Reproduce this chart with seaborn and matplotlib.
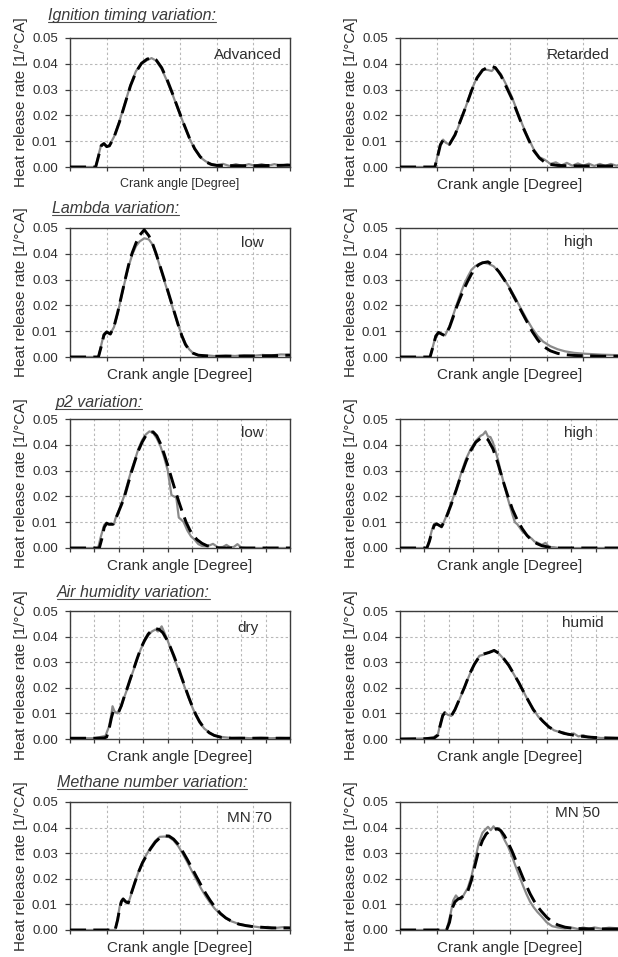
import numpy as np
import matplotlib
matplotlib.use("Agg")
import matplotlib.pyplot as plt
import matplotlib.transforms as mtransforms
from matplotlib.lines import Line2D
import seaborn as sns

sns.set_theme(style="ticks")
plt.rcParams['font.family'] = ['Liberation Sans', 'DejaVu Sans']

# ---------------------------------------------------------------
# Heat release rate [1/°CA] vs crank angle [deg]
# "meas" = measured trace (grey), "sim" = simulated trace (black dashed)
# ---------------------------------------------------------------

# Ignition timing: advanced
adv_sim_x = [-40, -26, -24.5, -23, -21.5, -20, -18.5, -16, -13, -10, -7, -4, -1, 2, 4.5, 7, 10, 13, 16, 19,
             22, 25, 28, 31, 34, 37, 40, 50, 60, 70, 80]
adv_sim = [0, 0, 0.0040, 0.0082, 0.0091, 0.0079, 0.0082, 0.0115, 0.0175, 0.0245, 0.0315, 0.0368, 0.0402,
           0.0418, 0.0424, 0.0415, 0.0385, 0.0338, 0.0283, 0.0225, 0.0168, 0.0115, 0.0071, 0.0040, 0.0020,
           0.0010, 0.0006, 0.0005, 0.0005, 0.0006, 0.0007]
adv_meas_x = [-40, -26, -24.5, -23, -21.5, -20, -18.5, -16, -13, -10, -7, -4, -1, 2, 4.5, 7, 10, 13, 16, 19,
              22, 25, 28, 31, 34, 37, 40, 43.5, 47, 50.5, 54, 57.5, 61, 64.5, 68, 71.5, 75, 78.5, 80]
adv_meas = [0, 0, 0.0045, 0.0086, 0.0090, 0.0080, 0.0084, 0.0117, 0.0178, 0.0248, 0.0318, 0.0372, 0.0400,
            0.0414, 0.0422, 0.0412, 0.0380, 0.0332, 0.0280, 0.0222, 0.0168, 0.0113, 0.0070, 0.0038, 0.0022,
            0.0012, 0.0008, 0.0012, 0.0004, 0.0011, 0.0004, 0.0011, 0.0005, 0.0011, 0.0005, 0.0011, 0.0005,
            0.0010, 0.0008]

# Ignition timing: retarded
ret_sim_x = [-40, -21, -19.5, -18, -16.5, -15, -13, -10, -7, -4, -1, 2, 5, 8, 10, 12, 15, 18, 21, 24, 27,
             30, 33, 36, 39, 42, 46, 50, 60, 70, 80]
ret_sim = [0, 0, 0.0040, 0.0085, 0.0104, 0.0096, 0.0088, 0.0125, 0.0180, 0.0235, 0.0295, 0.0345, 0.0375,
           0.0388, 0.0390, 0.0385, 0.0355, 0.0310, 0.0265, 0.0210, 0.0155, 0.0108, 0.0063, 0.0035, 0.0018,
           0.0010, 0.0006, 0.0005, 0.0004, 0.0004, 0.0004]
ret_meas_x = [-40, -21, -19.5, -18, -16.5, -15, -13, -10, -7, -4, -1, 2, 5, 8, 10, 12, 15, 18, 21, 24, 27,
              30, 33, 36, 39, 42, 45, 48, 51, 54, 57, 60, 63, 66, 69, 72, 75, 78, 80]
ret_meas = [0, 0, 0.0045, 0.0090, 0.0106, 0.0094, 0.0087, 0.0122, 0.0178, 0.0236, 0.0298, 0.0348, 0.0378,
            0.0376, 0.0372, 0.0386, 0.0360, 0.0318, 0.0272, 0.0215, 0.0160, 0.0112, 0.0068, 0.0038, 0.0028,
            0.0012, 0.0018, 0.0006, 0.0016, 0.0005, 0.0014, 0.0005, 0.0013, 0.0004, 0.0012, 0.0004, 0.0012,
            0.0005, 0.0009]

# Lambda: low
laml_sim_x = [-40, -24.5, -23, -21.5, -20, -18, -16, -14, -12, -10, -8, -6, -4, -2, 0.5, 3, 5, 7, 9, 11,
              13, 15, 17, 19, 21, 23, 25, 27, 30, 35, 40, 50, 60, 70, 80]
laml_sim = [0, 0, 0.0040, 0.0085, 0.0097, 0.0089, 0.0118, 0.0172, 0.0235, 0.0298, 0.0358, 0.0405, 0.0442,
            0.0472, 0.0493, 0.0470, 0.0440, 0.0400, 0.0355, 0.0310, 0.0265, 0.0218, 0.0172, 0.0125, 0.0082,
            0.0048, 0.0027, 0.0015, 0.0007, 0.0004, 0.0003, 0.0003, 0.0004, 0.0005, 0.0007]
laml_meas_x = [-40, -24.5, -23, -21.5, -20, -18, -16, -14, -12, -10, -8, -6, -4, -2, 0.5, 3, 5, 7, 9, 11,
               13, 15, 17, 19, 21, 23, 25, 27, 30, 35, 40, 45, 50, 55, 60, 65, 70, 75, 80]
laml_meas = [0, 0, 0.0045, 0.0090, 0.0098, 0.0090, 0.0116, 0.0170, 0.0232, 0.0295, 0.0352, 0.0398, 0.0430,
             0.0448, 0.0460, 0.0456, 0.0436, 0.0398, 0.0352, 0.0305, 0.0260, 0.0214, 0.0168, 0.0124, 0.0085,
             0.0052, 0.0030, 0.0016, 0.0006, 0.0006, 0.0003, 0.0006, 0.0004, 0.0007, 0.0005, 0.0008, 0.0006,
             0.0010, 0.0009]

# Lambda: high
lamh_sim_x = [-40, -23.6, -22, -20.5, -19, -17, -15.4, -13, -11, -9, -7, -5, -3, -1, 1, 3, 5, 8, 11, 14,
              17, 20, 23, 26, 29, 32, 35, 38, 42, 46, 50, 55, 60, 70, 80]
lamh_sim = [0, 0, 0.0040, 0.0080, 0.0095, 0.0088, 0.0082, 0.0115, 0.0155, 0.0196, 0.0232, 0.0265, 0.0295,
            0.0322, 0.0345, 0.0358, 0.0365, 0.0369, 0.0355, 0.0330, 0.0298, 0.0262, 0.0222, 0.0180, 0.0140,
            0.0100, 0.0068, 0.0042, 0.0024, 0.0014, 0.0009, 0.0006, 0.0005, 0.0003, 0.0003]
lamh_meas_x = [-40, -23.6, -22, -20.5, -19, -17, -15.4, -13, -11, -9, -7, -5, -3, -1, 1, 3, 5, 8, 11, 14,
               17, 20, 23, 26, 29, 32, 35, 38, 42, 46, 50, 55, 60, 65, 70, 75, 80]
lamh_meas = [0, 0, 0.0042, 0.0084, 0.0096, 0.0087, 0.0084, 0.0120, 0.0162, 0.0205, 0.0245, 0.0282, 0.0312,
             0.0338, 0.0352, 0.0360, 0.0366, 0.0362, 0.0352, 0.0330, 0.0300, 0.0266, 0.0228, 0.0187, 0.0148,
             0.0112, 0.0082, 0.0060, 0.0042, 0.0030, 0.0022, 0.0016, 0.0013, 0.0011, 0.0009, 0.0008, 0.0007]

# Boost pressure p2: low
p2l_sim_x = [-30, -18, -17, -16, -15, -14, -12.5, -11, -9.5, -8, -6.5, -5, -3.5, -2, -0.5, 1, 2.5, 4, 5.5,
             7, 8.5, 10, 11.5, 13, 14.5, 16, 17.5, 19, 20.5, 22, 24, 26, 28.5, 31, 40, 50, 60]
p2l_sim = [0, 0, 0.0035, 0.0080, 0.0096, 0.0092, 0.0092, 0.0120, 0.0155, 0.0190, 0.0240, 0.0290, 0.0335,
           0.0378, 0.0410, 0.0435, 0.0448, 0.0450, 0.0435, 0.0405, 0.0365, 0.0320, 0.0272, 0.0225, 0.0180,
           0.0138, 0.0100, 0.0070, 0.0048, 0.0032, 0.0018, 0.0009, 0.0004, 0, 0, 0, 0]
p2l_meas_x = [-30, -18.5, -17.5, -16, -15, -14.5, -12, -11.5, -9.5, -8, -6.5, -5, -3.5, -2, -0.5, 1, 2.5,
              4, 5.5, 7, 8.5, 10, 11.5, 12.5, 13.5, 14.5, 15.5, 16.5, 18, 19.5, 21, 22.5, 24, 26, 28.5, 30.5,
              32.5, 34, 35.5, 37, 38.5, 40, 42, 50, 60]
p2l_meas = [0, 0, 0.0040, 0.0090, 0.0098, 0.0092, 0.0092, 0.0112, 0.0158, 0.0198, 0.0248, 0.0298, 0.0340,
            0.0385, 0.0418, 0.0440, 0.0452, 0.0446, 0.0425, 0.0395, 0.0352, 0.0300, 0.0205, 0.0200, 0.0195,
            0.0118, 0.0110, 0.0100, 0.0068, 0.0045, 0.0032, 0.0015, 0.0008, 0.0006, 0.0016, 0.0003, 0.0004,
            0.0012, 0.0003, 0.0004, 0.0015, 0.0002, 0, 0, 0]

# Boost pressure p2: high
p2h_sim_x = [-30, -19, -18, -17, -16, -15, -13, -11, -9, -7, -5, -3, -1, 1, 3, 4.5, 6, 8, 10, 12, 14, 16,
             18, 20, 22, 24, 26, 28, 31, 35, 40, 50, 60]
p2h_sim = [0, 0, 0.0025, 0.0060, 0.0088, 0.0093, 0.0083, 0.0120, 0.0170, 0.0225, 0.0283, 0.0335, 0.0378,
           0.0410, 0.0425, 0.0429, 0.0420, 0.0385, 0.0330, 0.0265, 0.0205, 0.0150, 0.0108, 0.0075, 0.0048,
           0.0029, 0.0017, 0.0009, 0.0003, 0, 0, 0, 0]
p2h_meas_x = [-30, -19, -18, -17, -16, -15, -13, -11, -9, -7, -5, -3, -1, 1, 3, 4, 5, 6, 7, 8, 10, 12, 14,
              16, 17, 18, 20, 22, 24, 25, 26, 28, 29.5, 31, 33, 35, 40, 50, 60]
p2h_meas = [0, 0, 0.0030, 0.0068, 0.0094, 0.0096, 0.0080, 0.0125, 0.0175, 0.0228, 0.0290, 0.0345, 0.0385,
            0.0415, 0.0435, 0.0440, 0.0452, 0.0432, 0.0430, 0.0410, 0.0345, 0.0268, 0.0195, 0.0130, 0.0100,
            0.0092, 0.0065, 0.0050, 0.0035, 0.0025, 0.0022, 0.0012, 0.0020, 0.0004, 0.0003, 0, 0, 0, 0]

# Air humidity: dry
dry_sim_x = [-30, -20, -16, -15, -14, -13, -12.3, -11, -10.2, -9, -8, -6.8, -5.5, -4, -2.5, -1, 0.5, 2, 3.5,
             5, 6.5, 8, 9.5, 11, 12.5, 14, 15.5, 17, 18.5, 20, 21.5, 23, 25, 27, 29, 32, 36, 40, 50, 60]
dry_sim = [0.0003, 0.0003, 0.0004, 0.0008, 0.0040, 0.0085, 0.0108, 0.0110, 0.0103, 0.0130, 0.0160, 0.0192,
           0.0230, 0.0272, 0.0315, 0.0355, 0.0385, 0.0410, 0.0425, 0.0431, 0.0428, 0.0415, 0.0390, 0.0360,
           0.0325, 0.0287, 0.0245, 0.0205, 0.0165, 0.0128, 0.0095, 0.0068, 0.0041, 0.0024, 0.0014, 0.0006,
           0.0003, 0.0003, 0.0003, 0.0003]
dry_meas_x = [-30, -20, -16.5, -15.5, -14, -13, -12.6, -11.8, -10.5, -9, -8, -6.8, -5.5, -4, -2.5, -1, 0.5,
              2, 3.5, 5, 6, 7.5, 8.5, 9.5, 11, 12.5, 14, 15.5, 17, 18.5, 20, 21.5, 23, 25, 27, 29, 32, 36, 40,
              44, 48, 52, 56, 60]
dry_meas = [0.0003, 0.0003, 0.0010, 0.0012, 0.0050, 0.0100, 0.0128, 0.0108, 0.0100, 0.0128, 0.0158, 0.0190,
            0.0228, 0.0270, 0.0312, 0.0352, 0.0382, 0.0405, 0.0420, 0.0428, 0.0420, 0.0440, 0.0418, 0.0395,
            0.0358, 0.0318, 0.0280, 0.0240, 0.0200, 0.0162, 0.0125, 0.0092, 0.0064, 0.0040, 0.0026, 0.0014,
            0.0008, 0.0004, 0.0005, 0.0003, 0.0005, 0.0003, 0.0004, 0.0003]

# Air humidity: humid
hum_sim_x = [-30, -20, -16, -14.5, -13.5, -12.5, -11.6, -10.3, -8.9, -7.5, -5.5, -3.5, -1.5, 0.5, 2.5, 4.5,
             6.5, 8.5, 10.5, 12.5, 14.5, 16.5, 18.5, 20.5, 22.5, 24.5, 26.5, 28.5, 31, 33, 37, 42, 49, 55, 60]
hum_sim = [0, 0.0001, 0.0004, 0.0015, 0.0055, 0.0092, 0.0102, 0.0096, 0.0092, 0.0115, 0.0160, 0.0205,
           0.0255, 0.0293, 0.0322, 0.0333, 0.0338, 0.0346, 0.0335, 0.0313, 0.0288, 0.0255, 0.0222, 0.0185,
           0.0150, 0.0115, 0.0090, 0.0069, 0.0046, 0.0036, 0.0022, 0.0013, 0.0006, 0.0004, 0.0003]
hum_meas_x = [-30, -20, -16.4, -14.5, -13.5, -12.5, -11.8, -10.5, -9, -7.5, -5.5, -3.5, -1.5, 0.5, 2.5, 4.5,
              6.5, 8.5, 10.5, 12.5, 14.5, 16.5, 18.5, 20.5, 22.5, 24.5, 26.5, 28.5, 31, 33, 35, 37, 39, 41,
              43, 45, 47, 49, 52, 56, 60]
hum_meas = [0, 0.0002, 0.0006, 0.0018, 0.0060, 0.0095, 0.0105, 0.0095, 0.0090, 0.0115, 0.0158, 0.0205,
            0.0252, 0.0295, 0.0325, 0.0330, 0.0340, 0.0345, 0.0333, 0.0312, 0.0285, 0.0254, 0.0220, 0.0186,
            0.0148, 0.0118, 0.0088, 0.0068, 0.0048, 0.0034, 0.0028, 0.0026, 0.0016, 0.0022, 0.0010, 0.0015,
            0.0006, 0.0008, 0.0004, 0.0004, 0.0003]

# Methane number: MN 70
mn70_sim_x = [-40, -15.4, -14, -13, -12, -11, -9.5, -8.2, -6.5, -4.5, -2.5, -0.5, 1.5, 4, 6.5, 9, 11.5, 14,
              16.5, 19, 21.5, 24, 26.5, 29, 31.5, 34, 36.5, 39, 42, 45, 48, 52, 56, 60, 70, 80]
mn70_sim = [0, 0, 0.0040, 0.0080, 0.0110, 0.0121, 0.0110, 0.0106, 0.0145, 0.0188, 0.0228, 0.0262, 0.0288,
            0.0318, 0.0343, 0.0360, 0.0368, 0.0367, 0.0355, 0.0335, 0.0306, 0.0275, 0.0242, 0.0208, 0.0175,
            0.0143, 0.0115, 0.0090, 0.0065, 0.0047, 0.0035, 0.0023, 0.0017, 0.0013, 0.0008, 0.0008]
mn70_meas_x = [-40, -15.4, -14, -13, -12, -11, -9.5, -8.2, -6.5, -4.5, -2.5, -0.5, 1.5, 4, 6.5, 9, 11.5, 14,
               16.5, 19, 21.5, 24, 26.5, 29, 31.5, 34, 36.5, 39, 42, 45, 48, 52, 56, 60, 64, 68, 72, 76, 80]
mn70_meas = [0, 0, 0.0045, 0.0088, 0.0115, 0.0123, 0.0108, 0.0104, 0.0142, 0.0190, 0.0230, 0.0265, 0.0292,
             0.0322, 0.0348, 0.0364, 0.0365, 0.0363, 0.0350, 0.0328, 0.0298, 0.0265, 0.0230, 0.0196, 0.0162,
             0.0132, 0.0106, 0.0083, 0.0062, 0.0046, 0.0034, 0.0024, 0.0018, 0.0014, 0.0010, 0.0012, 0.0008,
             0.0011, 0.0009]

# Methane number: MN 50
mn50_sim_x = [-40, -14.6, -13, -11.5, -10, -8.5, -7, -5, -3, -1, 1, 3, 5, 7, 9, 11, 13, 15, 17, 19, 21, 23,
              25, 27, 29, 31, 33, 35, 37, 40, 43, 46, 50, 55, 60, 70, 80]
mn50_sim = [0, 0, 0.0030, 0.0085, 0.0110, 0.0120, 0.0125, 0.0135, 0.0152, 0.0195, 0.0255, 0.0312, 0.0350,
            0.0375, 0.0387, 0.0393, 0.0396, 0.0388, 0.0368, 0.0340, 0.0310, 0.0275, 0.0240, 0.0205, 0.0172,
            0.0141, 0.0115, 0.0092, 0.0074, 0.0050, 0.0032, 0.0020, 0.0011, 0.0006, 0.0005, 0.0004, 0.0004]
mn50_meas_x = [-40, -14.6, -12.5, -11, -9.5, -8, -6.5, -5, -3, -1, 1, 3, 5, 6.5, 8, 9.5, 11, 12.5, 14, 15.5,
               17, 19, 21, 23, 25, 27, 29, 31, 33, 35, 37, 40, 43, 46, 50, 54, 57, 60, 63, 66, 70, 74, 80]
mn50_meas = [0, 0, 0.0060, 0.0115, 0.0135, 0.0122, 0.0120, 0.0140, 0.0165, 0.0210, 0.0275, 0.0340, 0.0380,
             0.0392, 0.0403, 0.0390, 0.0405, 0.0390, 0.0398, 0.0375, 0.0352, 0.0325, 0.0290, 0.0250, 0.0212,
             0.0175, 0.0140, 0.0110, 0.0088, 0.0070, 0.0055, 0.0030, 0.0015, 0.0010, 0.0006, 0.0009, 0.0004,
             0.0010, 0.0004, 0.0010, 0.0005, 0.0009, 0.0006]

# Crank angle grids
wide_ticks = [-40, -20, 0, 20, 40, 60, 80]            # 6 divisions
fine_ticks = [-30, -20, -10, 0, 10, 20, 30, 40, 50, 60]  # 9 divisions
hrr_ticks = [0.00, 0.01, 0.02, 0.03, 0.04, 0.05]

section_titles = ["Ignition timing variation:", "Lambda variation:", "p2 variation:",
                  "Air humidity variation:", "Methane number variation:"]
case_labels = [["Advanced", "Retarded"], ["low", "high"], ["low", "high"],
               ["dry", "humid"], ["MN 70", "MN 50"]]

# ---------------------------------------------------------------
W, H = 618, 957
fig = plt.figure(figsize=(W / 100, H / 100), dpi=100)
fig.patch.set_facecolor("white")

row_px = [(38, 167), (228, 357), (419, 548), (611, 739), (802, 930)]
col_px = [(70, 290), (400, 620)]
title_pos = [(48, 20), (52, 213), (55, 407), (57, 597), (57, 787)]

panels = [
    [(adv_meas_x, adv_meas, adv_sim_x, adv_sim, wide_ticks, (0.807, 0.0434)),
     (ret_meas_x, ret_meas, ret_sim_x, ret_sim, wide_ticks, (0.809, 0.0434))],
    [(laml_meas_x, laml_meas, laml_sim_x, laml_sim, wide_ticks, (0.827, 0.0442)),
     (lamh_meas_x, lamh_meas, lamh_sim_x, lamh_sim, wide_ticks, (0.809, 0.0446))],
    [(p2l_meas_x, p2l_meas, p2l_sim_x, p2l_sim, fine_ticks, (0.827, 0.0446)),
     (p2h_meas_x, p2h_meas, p2h_sim_x, p2h_sim, fine_ticks, (0.811, 0.0446))],
    [(dry_meas_x, dry_meas, dry_sim_x, dry_sim, fine_ticks, (0.809, 0.0433)),
     (hum_meas_x, hum_meas, hum_sim_x, hum_sim, fine_ticks, (0.832, 0.0453))],
    [(mn70_meas_x, mn70_meas, mn70_sim_x, mn70_sim, wide_ticks, (0.814, 0.0438)),
     (mn50_meas_x, mn50_meas, mn50_sim_x, mn50_sim, wide_ticks, (0.809, 0.0457))],
]

TXT = "#2e2e2e"
SPINE = "#3c3c3c"

for r, (top, bottom) in enumerate(row_px):
    for c, (left, right) in enumerate(col_px):
        mx, my, sx, sy, ticks, (lx, ly) = panels[r][c]
        ax = fig.add_axes([left / W, 1 - bottom / H, (right - left) / W, (bottom - top) / H])
        ax.set_facecolor("white")

        sns.lineplot(x=mx, y=my, ax=ax, color="#8a8a8a", linewidth=1.6,
                     errorbar=None, legend=False, zorder=3)
        sns.lineplot(x=sx, y=sy, ax=ax, color="black", linewidth=2.1,
                     linestyle=(0, (5.5, 2.5)), errorbar=None, legend=False, zorder=4)

        ax.set_xlim(ticks[0], ticks[-1])
        ax.set_ylim(0, 0.05)
        ax.set_xticks(ticks)
        ax.set_xticklabels([])
        ax.set_yticks(hrr_ticks)
        ax.set_yticklabels([f"{v:.2f}" for v in hrr_ticks])

        ax.grid(True, color="#b8b8b8", linestyle=(0, (2.2, 2.2)), linewidth=0.8)
        ax.set_axisbelow(True)
        for sp in ax.spines.values():
            sp.set_visible(True)
            sp.set_color(SPINE)
            sp.set_linewidth(1.0)

        ax.tick_params(axis="x", direction="out", length=3.2, width=0.9, color=SPINE, pad=0)
        ax.tick_params(axis="y", direction="out", length=3.8, width=0.9, color=SPINE,
                       labelsize=9.5, labelcolor=TXT, pad=5)

        small = (r == 0 and c == 0)
        ax.set_xlabel("Crank angle [Degree]", fontsize=9 if small else 11, color=TXT, labelpad=5)
        ax.set_ylabel("Heat release rate [1/°CA]", fontsize=11, color=TXT, labelpad=3)

        trans = mtransforms.blended_transform_factory(ax.transAxes, ax.transData)
        ax.text(lx, ly, case_labels[r][c], transform=trans, ha="center", va="center",
                fontsize=11, color=TXT)

# Section headings, italic and underlined
heads = []
for (tx, ty), label in zip(title_pos, section_titles):
    t = fig.text(tx / W, 1 - ty / H, label, fontsize=11.5, fontstyle="italic",
                 color="#3a3a3a", ha="left", va="baseline")
    heads.append((t, ty))

fig.canvas.draw()
renderer = fig.canvas.get_renderer()
for t, ty in heads:
    bb = t.get_window_extent(renderer)
    yline = (H - ty - 1.6) / H
    fig.add_artist(Line2D([bb.x0 / W, bb.x1 / W], [yline, yline], transform=fig.transFigure,
                          color="#4a4a4a", linewidth=0.8))

fig.savefig("out.png", dpi=100, facecolor="white")
